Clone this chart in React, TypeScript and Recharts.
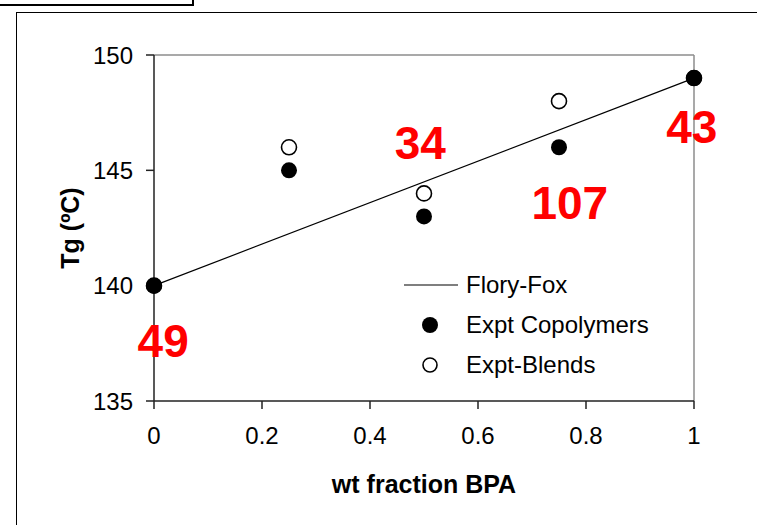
import React from 'react';
import { ScatterChart, Scatter, XAxis, YAxis, ReferenceLine } from 'recharts';

const wtFraction = [0, 0.25, 0.5, 0.75, 1];
const copolymerTg = [140, 145, 143, 146, 149];
const blendTg = [140, 146, 144, 148, 149];
const floryFoxX = [0, 1];
const floryFoxTg = [140, 149];
const annotationLabels = ['49', '34', '107', '43'];
const annotationX = [0.017, 0.493, 0.77, 0.996];
const annotationY = [136.9, 145.5, 142.9, 146.2];
const xTicks = [0, 0.2, 0.4, 0.6, 0.8, 1];
const yTicks = [135, 140, 145, 150];
const legendItems = ['Flory-Fox', 'Expt Copolymers', 'Expt-Blends'];

const FONT = '"Liberation Sans", Arial, sans-serif';

const copolymerData = wtFraction.map((x, i) => ({ x, y: copolymerTg[i] }));
const blendData = wtFraction.map((x, i) => ({ x, y: blendTg[i] }));
const floryFoxData = floryFoxX.map((x, i) => ({ x, y: floryFoxTg[i] }));
const annotationData = annotationLabels.map((label, i) => ({ x: annotationX[i], y: annotationY[i], label }));

const FilledDot = (p: any) => <circle cx={p.cx} cy={p.cy} r={8} fill="#000" />;
const OpenDot = (p: any) => <circle cx={p.cx} cy={p.cy} r={7.5} fill="#fff" stroke="#000" strokeWidth={1.6} />;
const NoDot = () => <g />;
const AnnotationText = (p: any) => (
  <text x={p.cx} y={p.cy} textAnchor="middle" fill="#ff0000" fontSize={46} fontWeight="bold" fontFamily={FONT}>
    {p.payload.label}
  </text>
);

const LegendBox = () => (
  <div style={{ position: 'absolute', left: 404, top: 265, fontFamily: FONT, fontSize: 24, color: '#000' }}>
    {legendItems.map((name, i) => (
      <div key={name} style={{ display: 'flex', alignItems: 'center', height: 40 }}>
        <svg width={54} height={40} style={{ display: 'block' }}>
          {i === 0 && <line x1={0} y1={20} x2={54} y2={20} stroke="#000" strokeWidth={1.2} />}
          {i === 1 && <circle cx={26} cy={20} r={8} fill="#000" />}
          {i === 2 && <circle cx={26} cy={20} r={7} fill="#fff" stroke="#000" strokeWidth={1.6} />}
        </svg>
        <span style={{ marginLeft: 8, lineHeight: '40px', whiteSpace: 'nowrap' }}>{name}</span>
      </div>
    ))}
  </div>
);

export default function App() {
  return (
    <div style={{ position: 'absolute', left: 0, top: 0, width: 757, height: 525, overflow: 'hidden', background: '#fff' }}>
      <div style={{ position: 'absolute', left: -10, top: -10, width: 204, height: 16, border: '2px solid #000', boxSizing: 'border-box' }} />
      <div style={{ position: 'absolute', left: 16, top: 12, width: 800, height: 600, borderLeft: '1.3px solid #000', borderTop: '1.3px solid #000', boxSizing: 'border-box' }} />
      <div style={{ position: 'absolute', left: 0, top: 0 }}>
        <ScatterChart width={757} height={525} margin={{ top: 55, right: 63, bottom: 64, left: 94 }}>
          <XAxis
            type="number"
            dataKey="x"
            domain={[0, 1]}
            ticks={xTicks}
            tickFormatter={(v: number) => String(v)}
            height={60}
            stroke="#222"
            strokeWidth={1.5}
            tickSize={8}
            tickMargin={18}
            tick={{ fill: '#000', fontSize: 24, fontFamily: FONT }}
            label={{
              content: (props: any) => {
                const vb = props.viewBox;
                return (
                  <text x={vb.x + vb.width / 2} y={493} textAnchor="middle" fontSize={25} fontWeight="bold" fontFamily={FONT} fill="#000">
                    wt fraction BPA
                  </text>
                );
              },
            }}
          />
          <YAxis
            type="number"
            dataKey="y"
            domain={[135, 150]}
            ticks={yTicks}
            width={60}
            stroke="#222"
            strokeWidth={1.5}
            tickSize={8}
            tickMargin={13}
            tick={{ fill: '#000', fontSize: 24, fontFamily: FONT }}
            label={{
              content: (props: any) => {
                const vb = props.viewBox;
                const cx = 70;
                const cy = vb.y + vb.height / 2;
                return (
                  <text x={cx} y={cy} transform={`rotate(-90, ${cx}, ${cy})`} textAnchor="middle" dominantBaseline="central" fontSize={25} fontWeight="bold" fontFamily={FONT} fill="#000">
                    Tg (ºC)
                  </text>
                );
              },
            }}
          />
          <ReferenceLine y={150} stroke="#8c8c8c" strokeWidth={1.5} />
          <ReferenceLine x={1} stroke="#8c8c8c" strokeWidth={1.5} />
          <Scatter name="Flory-Fox" data={floryFoxData} line={{ stroke: '#000', strokeWidth: 1.2 }} shape={NoDot} isAnimationActive={false} legendType="line" />
          <Scatter name="Expt-Blends" data={blendData} shape={OpenDot} isAnimationActive={false} />
          <Scatter name="Expt Copolymers" data={copolymerData} shape={FilledDot} isAnimationActive={false} />
          <Scatter name="labels" data={annotationData} shape={AnnotationText} isAnimationActive={false} legendType="none" />
        </ScatterChart>
      </div>
      <LegendBox />
    </div>
  );
}
